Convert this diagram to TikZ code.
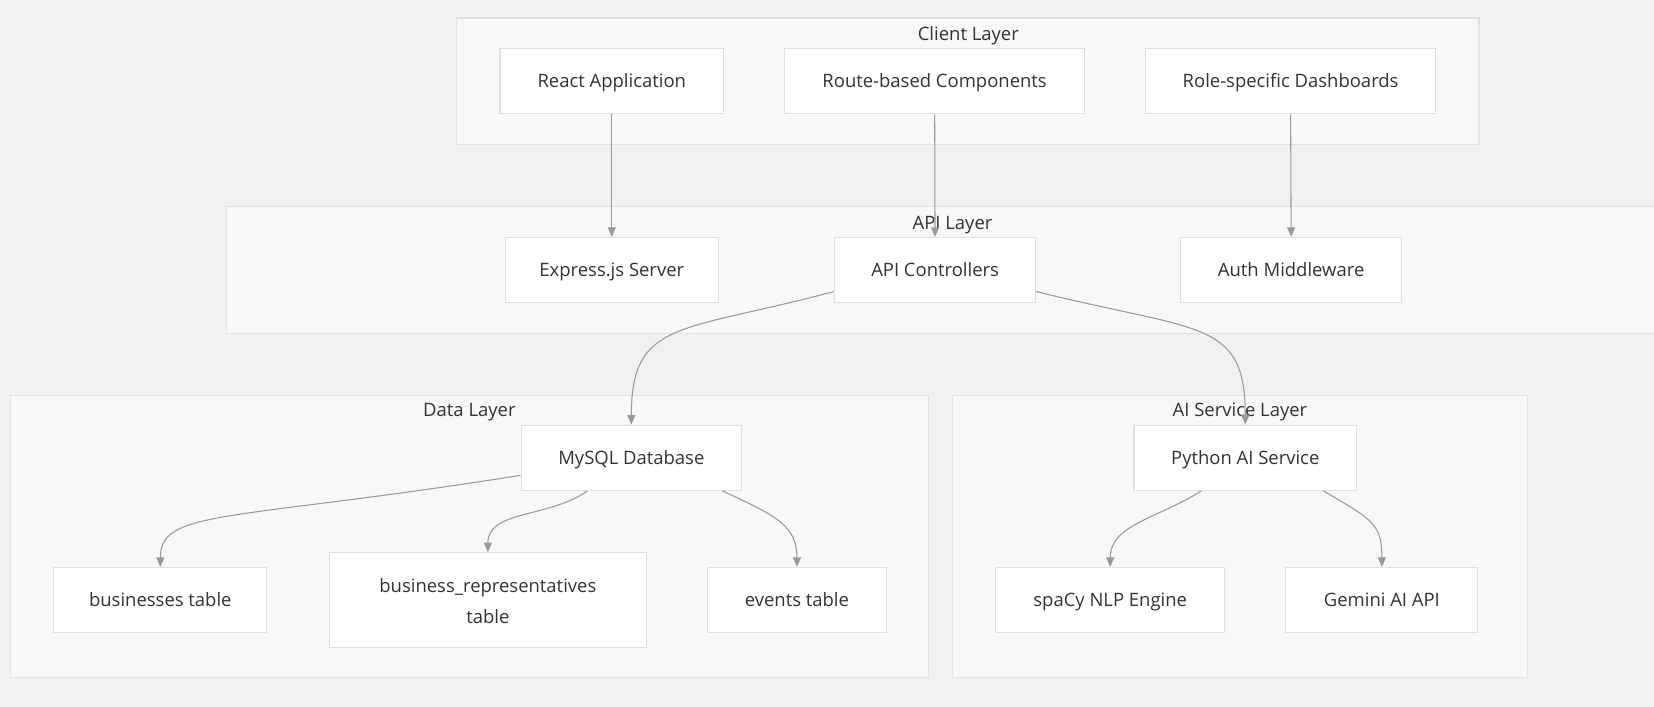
\documentclass[tikz,border=0pt]{standalone}
\usepackage{fontspec}
\setmainfont{Open Sans}
\usepackage{tikz}
\usetikzlibrary{positioning,arrows.meta}
\definecolor{bgcol}{HTML}{F2F1EF}
\definecolor{layfill}{HTML}{F8F8F8}
\definecolor{layline}{HTML}{E2E2E2}
\definecolor{boxline}{HTML}{E0E0E0}
\definecolor{txt}{HTML}{333333}
\definecolor{edgecol}{HTML}{999999}

\begin{document}
\begin{tikzpicture}[x=1bp,y=-1bp,
    box/.style={draw=boxline,fill=white,line width=1bp,minimum height=62bp,
      text=txt,font=\fontsize{17.5bp}{29bp}\selectfont,align=center,inner sep=0pt,
      text height=13bp,text depth=1bp},
    layer/.style={draw=layline,fill=layfill,line width=1.2bp},
    title/.style={text=txt,font=\fontsize{17.5bp}{20bp}\selectfont,inner sep=0pt,
      text height=13bp,text depth=1bp},
    edge/.style={draw=edgecol,line width=1bp,-{Triangle[length=9bp,width=7.5bp]}}]
                \useasboundingbox[fill=bgcol] (0,0) rectangle (1568,670);
                % layers
                \draw[layer] (433,17) rectangle (1402,137);
                \draw[layer] (215,196) rectangle (1600,316);
                \draw[layer] (10,375) rectangle (880,642);
                \draw[layer] (903,375) rectangle (1448,642);
                \node[title] (tclient) at (918,32) {Client Layer};
                \node[title] (tapi) at (903,212) {API Layer};
                \node[title] (tdata) at (445,389) {Data Layer};
                \node[title] (tai) at (1175.5,389) {AI Service Layer};
                % client
                \node[box,minimum width=212bp] (react) at (580,77) {React Application};
                \node[box,minimum width=284bp] (route) at (886,77) {Route-based Components};
                \node[box,minimum width=275bp] (role) at (1223.5,77) {Role-specific Dashboards};
                % api
                \node[box,minimum width=202bp] (express) at (580,256) {Express.js Server};
                \node[box,minimum width=191bp] (ctl) at (886.5,256) {API Controllers};
                \node[box,minimum width=210bp] (auth) at (1224,256) {Auth Middleware};
                % data
                \node[box,minimum width=209bp] (db) at (598.5,434) {MySQL Database};
                \node[box,minimum width=202bp] (biz) at (152,569) {businesses table};
                \node[box,minimum width=301bp,minimum height=90bp,text height=45bp] (rep) at (462.5,569) {business\_representatives\\table};
                \node[box,minimum width=169bp] (events) at (755.5,569) {events table};
                % ai
                \node[box,minimum width=211bp] (py) at (1180.5,434) {Python AI Service};
                \node[box,minimum width=217bp] (spacy) at (1052.5,569) {spaCy NLP Engine};
                \node[box,minimum width=182bp] (gemini) at (1310,569) {Gemini AI API};
                % edges
                \draw[edge] (react) -- (express);
                \draw[edge] (route) -- (ctl);
                \draw[edge] (role.south) -- (auth.north);
                \draw[edge] (ctl.192) .. controls +(165:150) and +(270:100) .. (db.north);
                \draw[edge] (ctl.-12) .. controls +(14:160) and +(270:100) .. (py.north);
                \draw[edge] (db.189) .. controls +(171:280) and +(270:55) .. (biz.north);
                \draw[edge] (db.217) .. controls +(145:45) and +(270:40) .. (rep.north);
                \draw[edge] (db.-20) .. controls +(25:55) and +(270:40) .. (events.north);
                \draw[edge] (py.217) .. controls +(148:50) and +(270:40) .. (spacy.north);
                \draw[edge] (py.-23) .. controls +(30:55) and +(270:40) .. (gemini.north);
            \end{tikzpicture}
\end{document}
